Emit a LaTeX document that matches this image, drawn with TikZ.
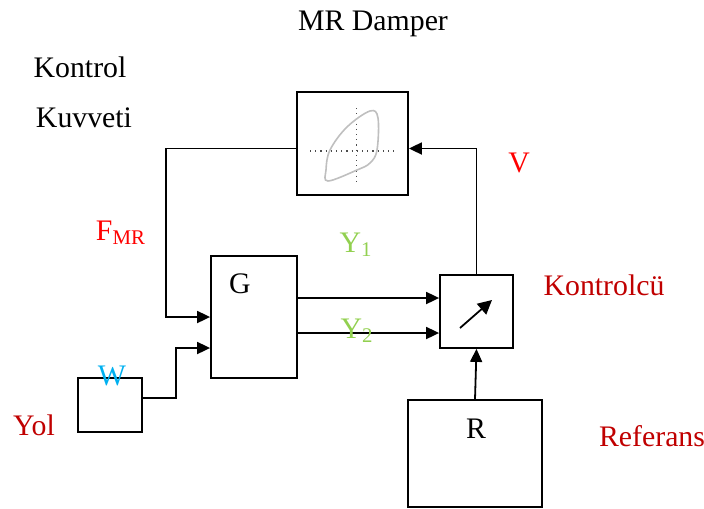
\documentclass[tikz,border=0pt]{standalone}
\usepackage{fontspec}
\setmainfont{Liberation Serif}
\usetikzlibrary{arrows.meta}
\definecolor{sigred}{RGB}{255,0,0}
\definecolor{darkred}{RGB}{192,0,0}
\definecolor{ygreen}{RGB}{146,208,80}
\definecolor{wblue}{RGB}{0,176,240}
\begin{document}
\begin{tikzpicture}[
    x=0.5pt, y=-0.5pt,
    blk/.style={rectangle, draw, line width=0.9pt, inner sep=0pt},
    sig/.style={-{Triangle[length=6.5pt,width=6pt]}, line width=0.9pt},
    lbl/.style={font=\fontsize{14.9}{17}\selectfont, inner sep=0pt, anchor=base},
    axis/.style={dotted, line width=0.6pt, black!70},
    loop/.style={gray!50, line width=0.8pt}
  ]
    \useasboundingbox (0,0) rectangle (704,508);
    % blocks
    \node[blk, minimum width=55.5pt, minimum height=51.5pt] (damper) at (352.5,143.5) {};
    \node[blk, minimum width=43pt, minimum height=61pt] (G) at (254,317) {};
    \node[blk, minimum width=36.5pt, minimum height=36.5pt] (ctrl) at (476.5,311.5) {};
    \node[blk, minimum width=32pt, minimum height=27pt] (road) at (110,405) {};
    \node[blk, minimum width=67pt, minimum height=53.5pt] (ref) at (475,453.5) {};
    % hysteresis inside the damper
    \draw[axis] (310,151) -- (394,151);
    \draw[axis] (356.5,108) -- (356.5,182);
    \draw[loop] plot[smooth cycle, tension=0.6] coordinates
      {(370,111) (378,118) (377,150) (370,163) (357,170) (328,181) (326,170) (330,150) (347,127)};
    % gauge arrow
    \draw[sig, -{Triangle[length=7pt,width=7pt]}] ([shift={(-16.5,16.5)}]ctrl.center) -- ([shift={(15.5,-11.5)}]ctrl.center);
    % connections
    \coordinate (fbk) at (166,317);
    \coordinate (wk) at (176,348);
    \draw[sig] ([yshift=-2.5pt]damper.west) -| (fbk) -- (G.west);
    \draw[sig] ([yshift=3.5pt]road.east) -| (wk) -- (wk -| G.west);
    \draw[sig] ([yshift=9.5pt]G.east) -- ([yshift=9.5pt]G.east -| ctrl.west);
    \draw[sig] ([yshift=-8pt]G.east) -- ([yshift=-8pt]G.east -| ctrl.west);
    \draw[sig] (ctrl.north) |- ([yshift=-2.5pt]damper.east);
    \draw[sig] (ref.north) -- (ctrl.south);
    % labels
    \node[lbl] (ttl) at (373,31) {MR Damper};
    \node[lbl] (kon) at (80,77) {Kontrol};
    \node[lbl] (kuv) at (84,127) {Kuvveti};
    \node[lbl, text=sigred] (vlt) at (519,172) {V};
    \node[lbl, text=sigred] (fmr) at (121,240) {F\textsubscript{MR}};
    \node[lbl, text=ygreen] (yone) at (356,252) {Y\textsubscript{1}};
    \node[lbl, text=ygreen] (ytwo) at (357,338) {Y\textsubscript{2}};
    \node[lbl] (gl) at (240,293) {G};
    \node[lbl, text=darkred] (kl) at (604,295) {Kontrolcü};
    \node[lbl, text=wblue] (wl) at (112,385) {W};
    \node[lbl, text=darkred] (yl) at (34,435) {Yol};
    \node[lbl] (rl) at (476,438) {R};
    \node[lbl, text=darkred] (refl) at (652,446) {Referans};
  \end{tikzpicture}
\end{document}
